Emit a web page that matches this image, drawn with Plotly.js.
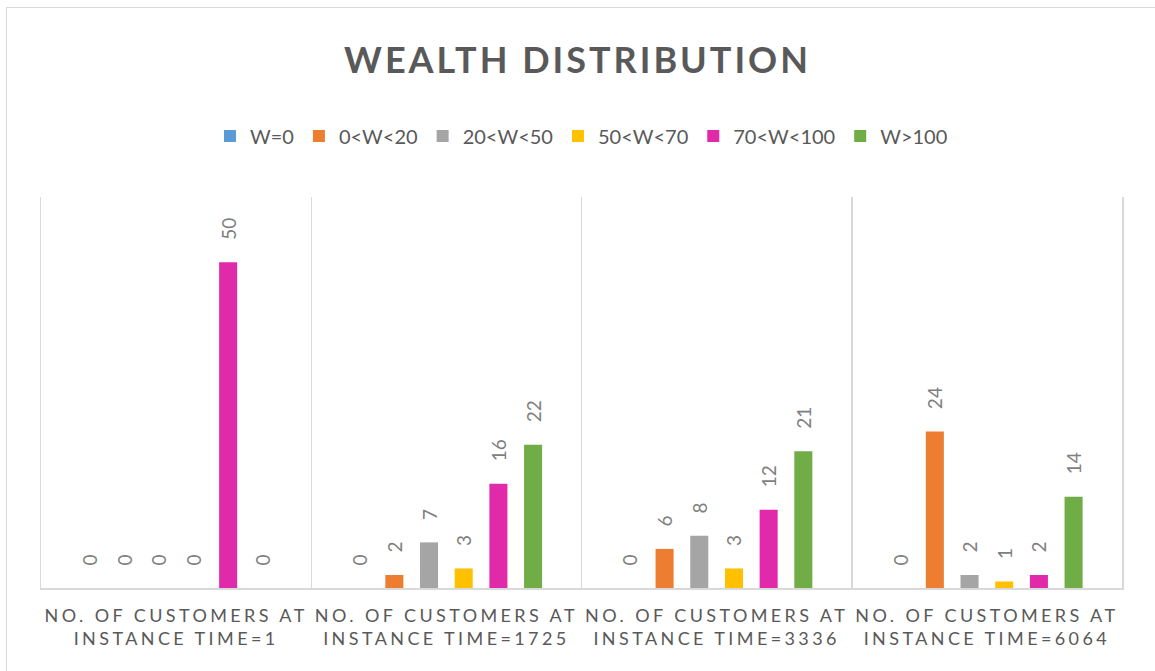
<!DOCTYPE html>
<html>
<head>
<meta charset="utf-8">
<script src="https://cdn.plot.ly/plotly-3.0.1.min.js"></script>
<style>
html, body { margin: 0; padding: 0; background: #ffffff; overflow: hidden; }
#wrap { position: relative; width: 1155px; height: 671px; }
#chart { position: absolute; left: 0; top: 0; width: 1155px; height: 671px; }
#frame { position: absolute; left: 6px; top: 7px; width: 1200px; height: 700px; border: 1.5px solid #d9d9d9; box-sizing: border-box; pointer-events: none; }
.gtitle { letter-spacing: 3px; }
.xtick text { letter-spacing: 3.4px; }
</style>
</head>
<body>
<div id="wrap">
  <div id="chart"></div>
  <div id="frame"></div>
</div>
<script>
var categories = [
  "NO. OF CUSTOMERS AT<br>INSTANCE TIME=1",
  "NO. OF CUSTOMERS AT<br>INSTANCE TIME=1725",
  "NO. OF CUSTOMERS AT<br>INSTANCE TIME=3336",
  "NO. OF CUSTOMERS AT<br>INSTANCE TIME=6064"
];
var seriesNames = ["W=0", "0<W<20", "20<W<50", "50<W<70", "70<W<100", "W>100"];
var w0      = [0, 0, 0, 0];
var w0to20  = [0, 2, 6, 24];
var w20to50 = [0, 7, 8, 2];
var w50to70 = [0, 3, 3, 1];
var w70to100 = [50, 16, 12, 2];
var wOver100 = [0, 22, 21, 14];
var seriesValues = [w0, w0to20, w20to50, w50to70, w70to100, wOver100];
var colors = ["#5b9bd5", "#ed7d31", "#a5a5a5", "#ffc000", "#e02aa9", "#70ad47"];

var font = "Lato, 'Open Sans', 'Liberation Sans', sans-serif";

var traces = seriesNames.map(function (name, i) {
  return {
    type: "bar",
    name: name,
    x: categories,
    y: seriesValues[i],
    marker: { color: colors[i] },
    texttemplate: "\u00a0\u00a0\u00a0\u00a0%{y}",
    textposition: "outside",
    textangle: -90,
    constraintext: "none",
    textfont: { family: font, size: 19, color: "#7f7f7f" },
    cliponaxis: false,
    hoverinfo: "x+y+name"
  };
});

var layout = {
  width: 1155,
  height: 671,
  paper_bgcolor: "rgba(0,0,0,0)",
  plot_bgcolor: "rgba(0,0,0,0)",
  margin: { l: 41, r: 33, t: 197, b: 83 },
  barmode: "group",
  bargap: 0.23,
  bargroupgap: 0.48,
  title: {
    text: "<b>WEALTH DISTRIBUTION</b>",
    font: { family: font, size: 36, color: "#595959" },
    x: 0.5,
    xanchor: "center",
    y: 0.91,
    yanchor: "middle"
  },
  showlegend: true,
  legend: {
    orientation: "h",
    x: 0.5,
    xanchor: "center",
    y: 1.156,
    yanchor: "middle",
    font: { family: font, size: 20, color: "#595959" },
    itemwidth: 30,
    tracegroupgap: 0,
    traceorder: "normal"
  },
  xaxis: {
    type: "category",
    tickson: "boundaries",
    showgrid: true,
    gridcolor: "#d9d9d9",
    gridwidth: 1.5,
    showline: true,
    linecolor: "#d9d9d9",
    linewidth: 2,
    ticks: "",
    tickangle: 0,
    ticklabelstandoff: 10,
    tickfont: { family: font, size: 18, color: "#595959" },
    automargin: false,
    fixedrange: true
  },
  yaxis: {
    range: [0, 60],
    showgrid: false,
    zeroline: false,
    showticklabels: false,
    showline: true,
    mirror: true,
    linecolor: "#d9d9d9",
    linewidth: 1.5,
    ticks: "",
    fixedrange: true
  }
};

Plotly.newPlot("chart", traces, layout, { displayModeBar: false, staticPlot: true });
</script>
</body>
</html>
